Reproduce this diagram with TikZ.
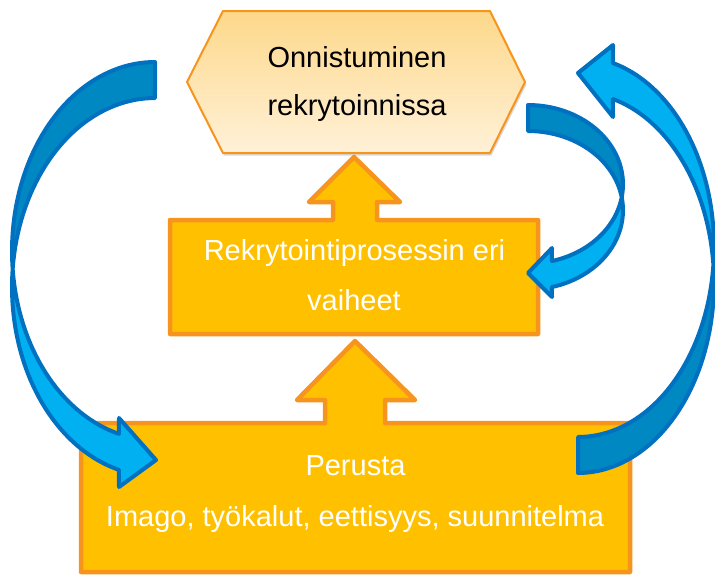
\documentclass[tikz,border=0pt]{standalone}
\usepackage{fontspec}
\setmainfont{Liberation Sans}
\usetikzlibrary{shadows}
\definecolor{boxfill}{HTML}{FFC000}
\definecolor{boxline}{HTML}{F7941D}
\definecolor{hexline}{HTML}{F7941D}
\definecolor{hextop}{HTML}{FDD88A}
\definecolor{hexbot}{HTML}{FFF1D8}
\definecolor{bline}{HTML}{0070C0}
\definecolor{blight}{HTML}{00B0F0}
\definecolor{bdark}{HTML}{0088C2}
\newcommand\pathArrL{plot[domain=-90:-255.4,samples=80] ({155+143*cos(\x)},{251+189*sin(\x)}) -- (119,418) -- (156,460) -- (119,487) -- plot[domain=-255.4:-90,samples=80] ({155+143*cos(\x)},{287+189*sin(\x)}) -- cycle}
\newcommand\pathArrR{plot[domain=90:-75.1,samples=80] ({578+136*cos(\x)},{246.8+190.2*sin(\x)}) -- (613,45) -- (578,73) -- (613,117) -- plot[domain=-75.1:90,samples=80] ({578+136*cos(\x)},{282.8+190.2*sin(\x)}) -- cycle}
\newcommand\pathArrS{plot[domain=-90:75.4,samples=60] ({528+95*cos(\x)},{184.3+79.3*sin(\x)}) -- (552,248) -- (528,273) -- (552,297) -- plot[domain=75.4:-90,samples=60] ({528+95*cos(\x)},{210.3+79.3*sin(\x)}) -- cycle}
\begin{document}
\begin{tikzpicture}[x=1pt,y=-1pt,
  obox/.style={fill=boxfill, draw=boxline, line width=4.5pt, line join=round},
  hexbox/.style={draw=hexline, line width=2pt, line join=round, top color=hextop, bottom color=hexbot,
    drop shadow={shadow xshift=1.5pt, shadow yshift=-2.5pt, opacity=0.3, fill=black!50}},
  txt/.style={font=\fontsize{29}{35}\selectfont, anchor=base, inner sep=0pt},
  blueline/.style={draw=bline, line width=4pt, line join=round}]
\useasboundingbox (0,0) rectangle (715,574);
% bottom box with up arrow
\path[obox] (81,423) -- (325,423) -- (325,400) -- (297,400) -- (355,341) -- (415,400) -- (385,400) -- (385,423) -- (630,423) -- (630,572) -- (81,572) -- cycle;
% middle box with up arrow
\path[obox] (170,220) -- (333,220) -- (333,202) -- (309,202) -- (354,157) -- (400,202) -- (377,202) -- (377,220) -- (538,220) -- (538,334) -- (170,334) -- cycle;
% hexagon
\path[hexbox] (187,82) -- (223,11) -- (490,11) -- (525,82) -- (490,153) -- (223,153) -- cycle;
% texts
\node[txt, text=black] (top1) at (357,67) {Onnistuminen};
\node[txt, text=black] (top2) at (357,115) {rekrytoinnissa};
\node[txt, text=white] (mid1) at (354.5,260) {Rekrytointiprosessin eri};
\node[txt, text=white] (mid2) at (354,310) {vaiheet};
\node[txt, text=white] (bot1) at (355.5,475) {Perusta};
\node[txt, text=white] (bot2) at (355,526) {Imago, työkalut, eettisyys, suunnitelma};
% left curved arrow
\fill[blight] \pathArrL;
\begin{scope}
\clip (0,0) rectangle (715,269);
\fill[bdark] \pathArrL;
\end{scope}
\path[blueline] \pathArrL;
% right big curved arrow
\fill[blight] \pathArrR;
\begin{scope}
\clip (0,264.8) rectangle (715,574);
\fill[bdark] \pathArrR;
\end{scope}
\path[blueline] \pathArrR;
% right small curved arrow
\fill[blight] \pathArrS;
\begin{scope}
\clip (0,0) rectangle (715,197.3);
\fill[bdark] \pathArrS;
\end{scope}
\path[blueline] \pathArrS;
\end{tikzpicture}
\end{document}
